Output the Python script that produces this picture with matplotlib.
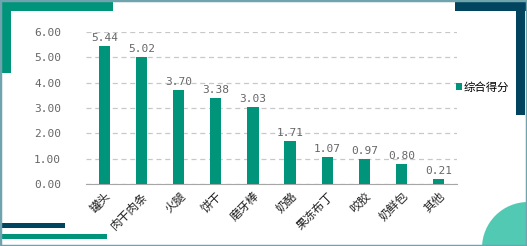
import matplotlib.pyplot as plt
from matplotlib.patches import Rectangle, Circle

plt.rcParams['font.family'] = ['Noto Sans CJK SC', 'DejaVu Sans']

categories = ['罐头', '肉干肉条', '火腿', '饼干', '磨牙棒', '奶酪', '果冻布丁', '咬胶', '奶鲜包', '其他']
scores = [5.44, 5.02, 3.70, 3.38, 3.03, 1.71, 1.07, 0.97, 0.80, 0.21]
yticks = [0, 1, 2, 3, 4, 5, 6]
series_name = '综合得分'

teal = '#00957a'
navy = '#00445f'
W, H = 527, 246

fig = plt.figure(figsize=(W / 100, H / 100), dpi=100)
fig.patch.set_facecolor('white')

def px_rect(x0, y0, x1, y1, color):
    # pixel coords from top-left corner
    fig.patches.append(Rectangle((x0 / W, 1 - y1 / H), (x1 - x0) / W, (y1 - y0) / H,
                                 transform=fig.transFigure, color=color, lw=0, zorder=0))

# decorations
px_rect(0, 1, 113, 11, teal)
px_rect(2, 1, 11, 73, teal)
px_rect(455, 1, 527, 11, navy)
px_rect(516, 1, 525, 115, navy)
px_rect(2, 223, 65, 228, navy)
px_rect(2, 234, 107, 239, teal)
fig.patches.append(Circle((5.28, -0.02), 0.46, transform=fig.dpi_scale_trans,
                          color='#52c9b3', lw=0, zorder=0))
fig.patches.append(Rectangle((0, 0), 1, 1, transform=fig.transFigure, fill=False,
                             edgecolor='#6fa3ad', lw=2.5, zorder=5))

ax = fig.add_axes([86 / W, 1 - 184 / H, (457 - 86) / W, (184 - 32) / H])
ax.set_facecolor('none')
x = range(len(categories))
bars = ax.bar(x, scores, width=0.3, color=teal, label=series_name, zorder=3)
for xi, v in zip(x, scores):
    ax.text(xi, v + 0.12, f'{v:.2f}', ha='center', va='bottom', fontsize=8,
            family='DejaVu Sans Mono', color='#666666', clip_on=False)

ax.set_xlim(-0.5, len(categories) - 0.5)
ax.set_ylim(0, 6)
ax.set_yticks(yticks)
ax.set_yticklabels([f'{t:.2f}' for t in yticks], family='DejaVu Sans Mono',
                   fontsize=8, color='#666666')
ax.set_xticks(list(x))
ax.set_xticklabels(categories, rotation=45, ha='right', rotation_mode='anchor',
                   fontsize=8.5, color='#222222')
ax.tick_params(axis='both', length=0)
ax.tick_params(axis='y', pad=18)
ax.tick_params(axis='x', pad=4)
ax.grid(axis='y', linestyle=(0, (4, 3)), color='#c8c8c8', lw=0.9, zorder=0)
for s in ['top', 'right', 'left']:
    ax.spines[s].set_visible(False)
ax.spines['bottom'].set_color('#a6a6a6')

fig.legend(handles=[bars], labels=[series_name], loc='center left',
           bbox_to_anchor=(456 / W, 1 - 87 / H), frameon=False, fontsize=8.2,
           handlelength=0.5, handleheight=0.5, handletextpad=0.15, borderpad=0,
           borderaxespad=0)

fig.savefig('out.png', dpi=100)
